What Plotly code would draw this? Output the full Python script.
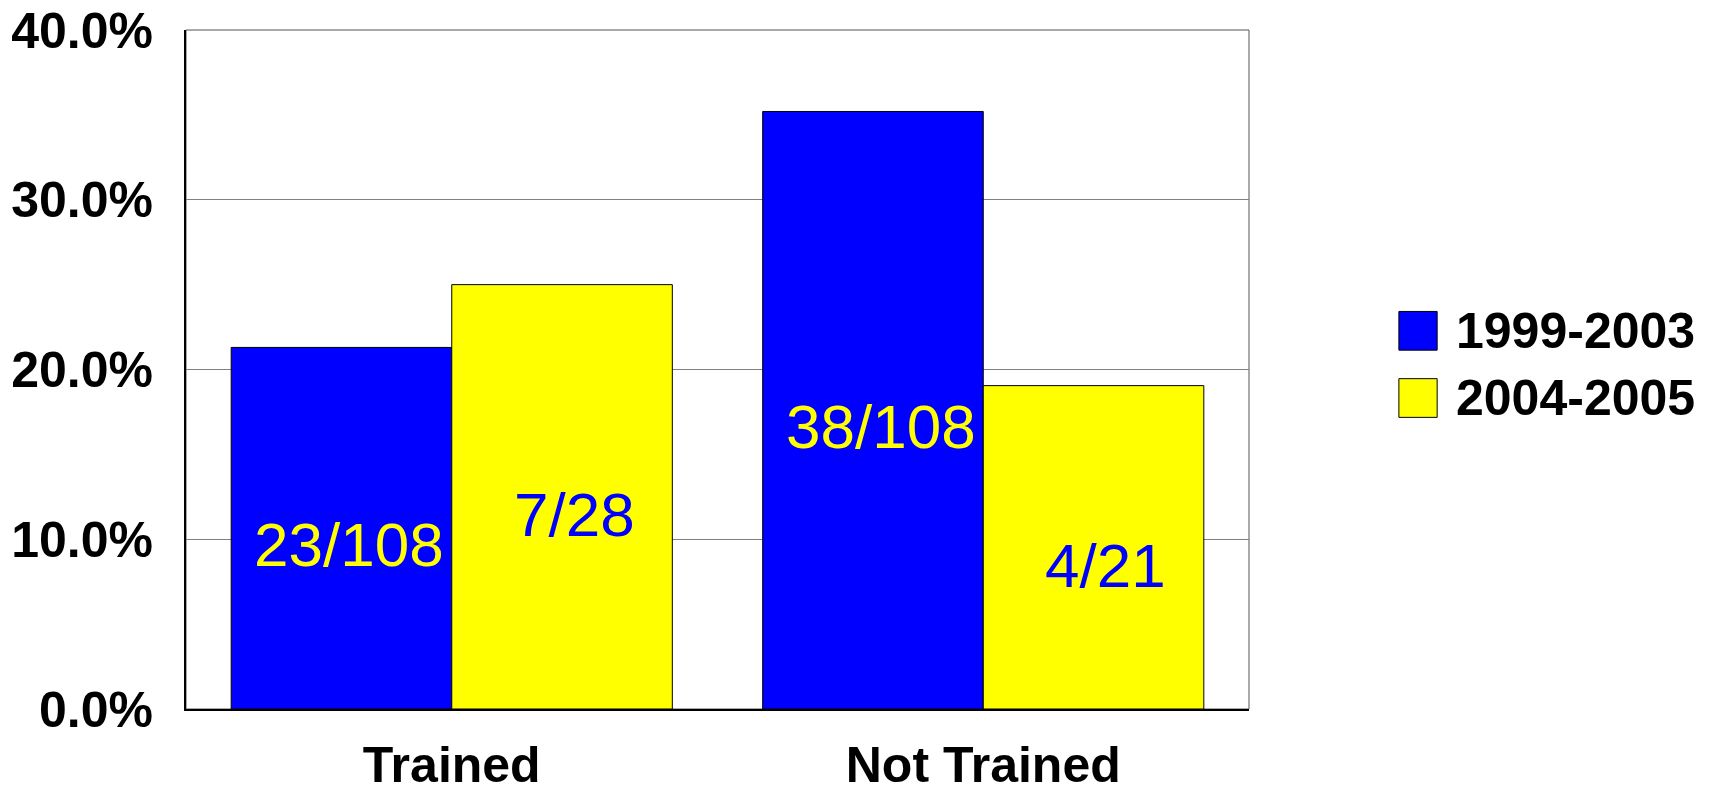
import plotly.graph_objects as go

categories = ["Trained", "Not Trained"]
series_names = ["1999-2003", "2004-2005"]
values_1999_2003 = [0.213, 0.352]
values_2004_2005 = [0.250, 0.1905]
labels_1999_2003 = ["23/108", "38/108"]
labels_2004_2005 = ["7/28", "4/21"]
y_ticks = [0.0, 0.1, 0.2, 0.3, 0.4]

W, H = 1717, 793
ML, MR, MT, MB = 186, 468, 30, 84
BARGAP = 0.17
plot_w = W - ML - MR
bar_px = plot_w / len(categories) * (1 - BARGAP) / 2

FONT = "Arial, Liberation Sans, sans-serif"
BLUE = "#0000FF"
YELLOW = "#FFFF00"

fig = go.Figure()
fig.add_trace(go.Bar(x=categories, y=values_1999_2003, name=series_names[0],
                     marker=dict(color=BLUE, line=dict(color="#000000", width=1)),
                     showlegend=False, hoverinfo="skip"))
fig.add_trace(go.Bar(x=categories, y=values_2004_2005, name=series_names[1],
                     marker=dict(color=YELLOW, line=dict(color="#000000", width=1)),
                     showlegend=False, hoverinfo="skip"))

annotations = []
for cat, v, lab in zip(categories, values_1999_2003, labels_1999_2003):
    annotations.append(dict(x=cat, y=v / 2, xref="x", yref="y", text=lab, showarrow=False,
                            xshift=-bar_px / 2 + 8, yshift=-16,
                            font=dict(family=FONT, size=62, color=YELLOW)))
for cat, v, lab in zip(categories, values_2004_2005, labels_2004_2005):
    annotations.append(dict(x=cat, y=v / 2, xref="x", yref="y", text=lab, showarrow=False,
                            xshift=bar_px / 2 + 12, yshift=-18,
                            font=dict(family=FONT, size=62, color=BLUE)))

# manual legend
leg_colors = [BLUE, YELLOW]
leg_y = [0.557, 0.458]
shapes = [dict(type="rect", xref="paper", yref="paper", x0=0, x1=1, y0=0, y1=1,
               line=dict(color="#555555", width=1), fillcolor="rgba(0,0,0,0)", layer="below")]
for name, col, yc in zip(series_names, leg_colors, leg_y):
    shapes.append(dict(type="rect", xref="paper", yref="paper", x0=1.141, x1=1.177,
                       y0=yc - 0.0285, y1=yc + 0.0285, fillcolor=col,
                       line=dict(color="#000000", width=1)))
    annotations.append(dict(x=1.193, y=yc, xref="paper", yref="paper", text="<b>%s</b>" % name,
                            showarrow=False, xanchor="left", yanchor="middle",
                            font=dict(family=FONT, size=50, color="#000000")))

fig.update_layout(
    width=W, height=H,
    margin=dict(l=ML, r=MR, t=MT, b=MB, autoexpand=False),
    paper_bgcolor="white", plot_bgcolor="white",
    barmode="group", bargap=BARGAP, bargroupgap=0,
    annotations=annotations, shapes=shapes,
    font=dict(family=FONT, color="#000000"),
)
fig.update_yaxes(range=[0, 0.4], tickvals=y_ticks, tickformat=".1%",
                 tickfont=dict(family=FONT, size=50, color="#000000", weight="bold"),
                 showgrid=True, gridcolor="#808080", gridwidth=1,
                 showline=True, linecolor="#000000", linewidth=2, automargin=False,
                 ticks="", ticklabelstandoff=21, zeroline=False)
fig.update_xaxes(tickfont=dict(family=FONT, size=50, color="#000000", weight="bold"),
                 showline=True, linecolor="#000000", linewidth=2, automargin=False,
                 ticks="", ticklabelstandoff=11)

fig.write_html("out.html")
